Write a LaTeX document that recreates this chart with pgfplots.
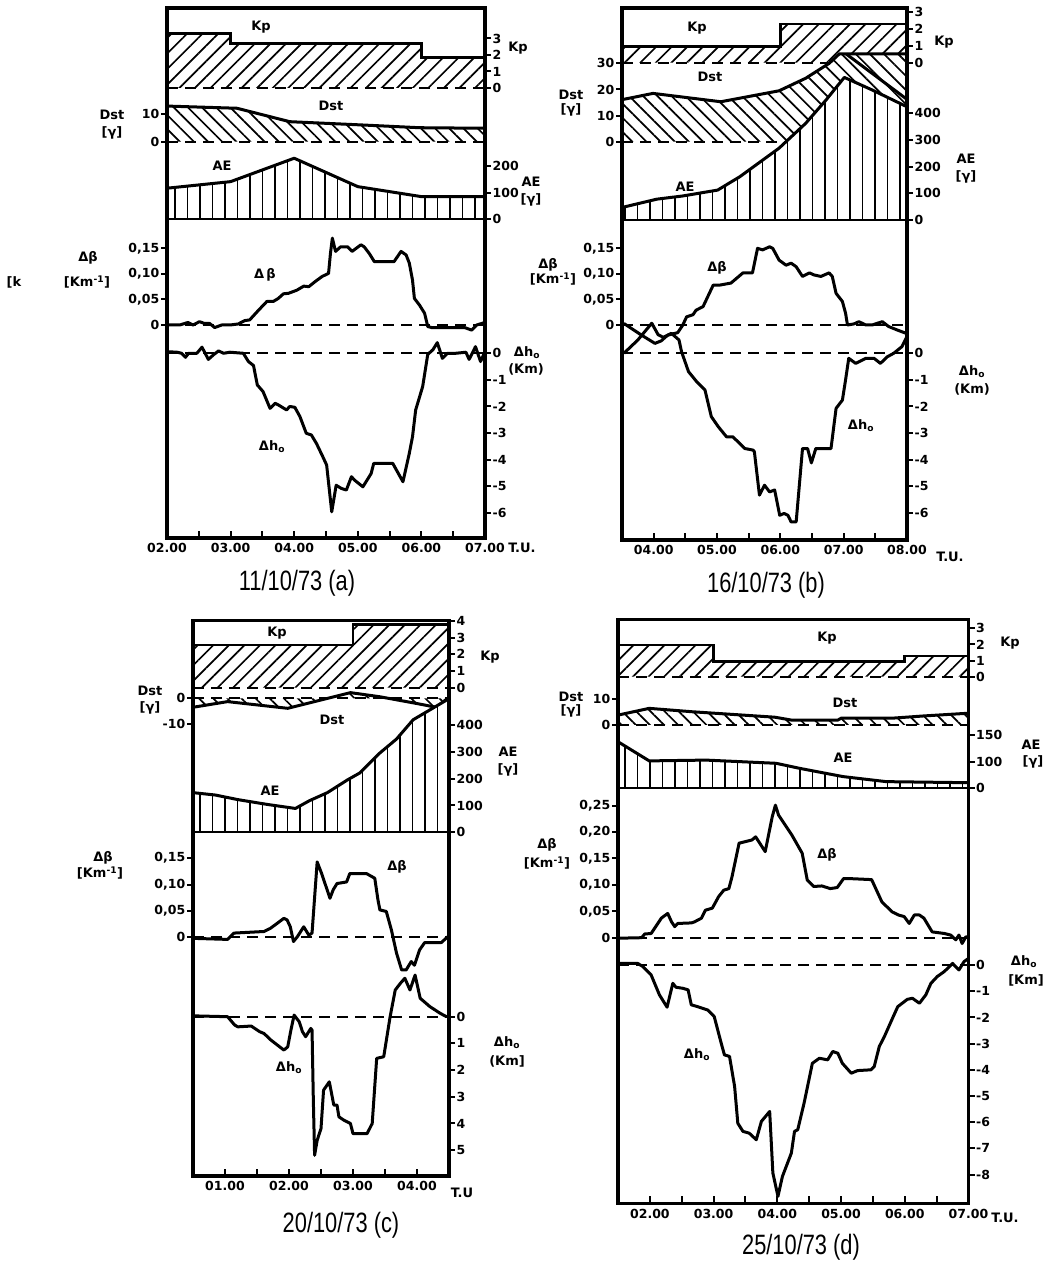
\documentclass[border=0pt]{standalone}
\usepackage{fontspec}
\setmainfont{DejaVu Sans}
\newfontfamily\capfont{Liberation Sans}
\usepackage{pgfplots}
\pgfplotsset{compat=1.18}
\usetikzlibrary{patterns.meta}

\newcommand\tl{\fontsize{12.5}{13}\selectfont\bfseries}
\newcommand\lb{\fontsize{13}{14}\selectfont\bfseries}
\newcommand\setsub[4]{% top, bottom, pixel of zero, pixels per unit
  \pgfmathsetmacro\sbymin{((#3)-(#2))/(#4)}%
  \pgfmathsetmacro\sbymax{((#3)-(#1))/(#4)}%
  \pgfmathsetmacro\sbh{(#2)-(#1)}%
  \pgfmathsetmacro\sby{1263-(#2)}}
\newcommand\setframe[2]{%
  \pgfmathsetmacro\fh{(#2)-(#1)}%
  \pgfmathsetmacro\fy{1263-(#2)}}

\pgfplotsset{
  sub/.style={scale only axis, width=\PW pt, height=\sbh pt, at={(\PL pt,\sby pt)},
    anchor=south west, xmin=\XMIN, xmax=\XMAX, ymin=\sbymin, ymax=\sbymax, clip=false,
    axis line style={draw=none}, xtick=\empty, tick align=outside, major tick length=6pt,
    tick style={line width=2pt,black}, tick label style={font=\tl},
    yticklabel style={inner sep=1.5pt}},
  subL/.style={sub, ytick pos=left, yticklabel pos=left},
  subR/.style={sub, ytick pos=right, yticklabel pos=right},
  frame/.style={scale only axis, width=\PW pt, height=\fh pt, at={(\PL pt,\fy pt)},
    anchor=south west, xmin=\XMIN, xmax=\XMAX, ymin=0, ymax=1, ytick=\empty,
    axis line style={line width=3.2pt}, tick align=inside, major tick length=7pt,
    minor tick length=7pt, tick style={line width=2pt,black}, xtick pos=bottom,
    tick label style={font=\tl}, xticklabel style={yshift=-2pt}},
}
\tikzset{
  curve/.style={line width=3pt, line join=round, black},
  zline/.style={line width=2pt, dash pattern=on 11pt off 7pt},
  stepl/.style={line width=2.6pt},
  kph/.style={draw=none, preaction={fill=white}, pattern={Lines[angle=45,distance=11pt,line width=1.7pt]}},
  dsth/.style={draw=none, preaction={fill=white}, pattern={Lines[angle=-45,distance=10pt,line width=1.7pt]}},
  aeh/.style={draw=none, preaction={fill=white}, pattern={Lines[angle=90,distance=12.5pt,line width=1.8pt]}},
  lab/.style={font=\lb, inner sep=0pt},
  captxt/.style={font=\capfont\fontsize{28}{30}\selectfont, xscale=0.78, inner sep=0pt},
}

\begin{document}
\begin{tikzpicture}
\useasboundingbox (0,0) rectangle (1046pt,1263pt);

%%%%%%%%%%%%%%%%%%%% PANEL A %%%%%%%%%%%%%%%%%%%%
\def\PL{167}\def\PW{318}\def\XMIN{2}\def\XMAX{7}
\setsub{8}{88}{88}{16.5}
\begin{axis}[subR, ytick={0,1,2,3}, yticklabels={0,1,2,3}]
\addplot[kph] coordinates {(2,0)(2,3.3)(3,3.3)(3,2.7)(6,2.7)(6,1.85)(7,1.85)(7,0)} -- cycle;
\addplot[stepl] coordinates {(2,3.3)(3,3.3)(3,2.7)(6,2.7)(6,1.85)(7,1.85)};
\addplot[zline] coordinates {(2,0)(7,0)};
\end{axis}
\setsub{88}{141.7}{141.7}{2.74}
\begin{axis}[subL, ytick={0,10}, yticklabels={0,10}]
\addplot[dsth] coordinates {(2,0)(2,13)(3.1,12.2)(3.93,7.3)(5.07,6.1)(5.97,5.1)(7,4.9)(7,0)} -- cycle;
\addplot[curve] coordinates {(2,13)(3.1,12.2)(3.93,7.3)(5.07,6.1)(5.97,5.1)(7,4.9)};
\addplot[zline] coordinates {(2,0)(7,0)};
\end{axis}
\setsub{141.7}{219}{219}{0.263}
\begin{axis}[subR, ytick={0,100,200}, yticklabels={0,100,200}]
\addplot[aeh] coordinates {(2,0)(2,117)(3,142)(4.0,231)(5.0,123)(6.0,85)(7,85)(7,0)} -- cycle;
\addplot[curve] coordinates {(2,117)(3,142)(4.0,231)(5.0,123)(6.0,85)(7,85)};
\addplot[line width=2pt] coordinates {(2,0)(7,0)};
\end{axis}
\setsub{219}{340}{325}{511}
\begin{axis}[subL, ytick={0,0.05,0.1,0.15}, yticklabels={0,{0,05},{0,10},{0,15}}]
\addplot[zline] coordinates {(2,0)(7,0)};
\addplot[curve] coordinates {(2.00,0)(2.20,0)(2.33,0.005)(2.41,0)(2.51,0.0065)(2.59,0.003)(2.67,0.003)(2.75,-0.005)(2.86,0)(2.99,0)(3.12,0.002)(3.22,0.0085)(3.30,0.01)(3.44,0.029)(3.57,0.046)(3.67,0.046)(3.75,0.052)(3.83,0.061)(3.91,0.062)(4.04,0.068)(4.15,0.076)(4.23,0.075)(4.33,0.085)(4.44,0.095)(4.54,0.101)(4.57,0.140)(4.60,0.170)(4.65,0.144)(4.73,0.153)(4.84,0.153)(4.91,0.144)(5.05,0.157)(5.10,0.153)(5.18,0.140)(5.26,0.124)(5.57,0.124)(5.68,0.144)(5.76,0.137)(5.81,0.121)(5.86,0.088)(5.89,0.052)(5.97,0.039)(6.05,0.023)(6.10,-0.003)(6.16,-0.005)(6.68,-0.005)(6.79,-0.01)(6.87,0)(7.00,0.005)};
\end{axis}
\setsub{340}{538}{353.3}{26.6}
\begin{axis}[subR, ytick={0,-1,-2,-3,-4,-5,-6}, yticklabels={0,-1,-2,-3,-4,-5,-6}]
\addplot[zline] coordinates {(2,0)(7,0)};
\addplot[curve] coordinates {(2.0,0.06)(2.16,0.04)(2.23,0)(2.29,-0.15)(2.34,0)(2.47,0)(2.55,0.23)(2.60,0)(2.65,-0.23)(2.73,-0.06)(2.81,0.09)(2.89,0)(2.99,0.04)(3.20,0)(3.28,-0.31)(3.36,-0.46)(3.42,-1.19)(3.51,-1.44)(3.62,-2.07)(3.70,-1.88)(3.75,-1.94)(3.88,-2.13)(3.93,-2.0)(4.01,-2.03)(4.09,-2.38)(4.19,-3.01)(4.27,-3.07)(4.35,-3.39)(4.45,-3.89)(4.51,-4.20)(4.53,-4.64)(4.59,-5.96)(4.66,-4.96)(4.74,-5.08)(4.82,-5.14)(4.90,-4.64)(4.95,-4.77)(5.08,-5.02)(5.21,-4.52)(5.25,-4.14)(5.55,-4.14)(5.71,-4.83)(5.81,-3.76)(5.86,-3.14)(5.91,-2.13)(6.02,-1.25)(6.10,-0.04)(6.18,0.13)(6.25,0.40)(6.33,-0.19)(6.41,0)(6.54,0)(6.70,0.04)(6.75,-0.23)(6.80,0)(6.85,0.25)(6.93,-0.31)(7.0,0.06)};
\end{axis}
\setframe{8}{538}
\begin{axis}[frame, xtick={2,3,4,5,6,7}, xticklabels={02.00,03.00,04.00,05.00,06.00,07.00}, minor xtick={2.5,3.5,4.5,5.5,6.5}]
\end{axis}

%%%%%%%%%%%%%%%%%%%% PANEL B %%%%%%%%%%%%%%%%%%%%
\def\PL{622}\def\PW{285}\def\XMIN{3.5}\def\XMAX{8}
\setsub{8}{62.7}{62.7}{17}
\begin{axis}[subR, ytick={0,1,2,3}, yticklabels={0,1,2,3}]
\addplot[kph] coordinates {(3.5,0)(3.5,0.94)(6,0.94)(6,2.28)(8,2.28)(8,0)} -- cycle;
\addplot[stepl] coordinates {(3.5,0.94)(6,0.94)(6,2.28)(8,2.28)};
\addplot[zline] coordinates {(3.5,0)(8,0)};
\end{axis}
\setsub{50}{141.7}{141.7}{2.61}
\begin{axis}[subL, ytick={0,10,20,30}, yticklabels={0,10,20,30}]
\addplot[dsth] coordinates {(3.5,0)(3.52,16.2)(3.99,18.5)(5.06,15.3)(5.98,19.5)(6.40,24.3)(6.77,30)(6.93,33.6)(8.0,33.6)(8.0,0)} -- cycle;
\addplot[curve] coordinates {(3.52,16.2)(3.99,18.5)(5.06,15.3)(5.98,19.5)(6.40,24.3)(6.77,30)(6.93,33.6)(8.0,33.6)};
\addplot[curve] coordinates {(7.04,33.6)(8.0,16.2)};
\addplot[zline] coordinates {(3.5,0)(8,0)};
\end{axis}
\setsub{70}{220}{220}{0.267}
\begin{axis}[subR, ytick={0,100,200,300,400}, yticklabels={0,100,200,300,400}]
\addplot[aeh] coordinates {(3.5,0)(3.52,48)(4.05,78)(4.46,90)(5.01,112)(5.36,162)(5.98,269)(6.40,362)(6.72,449)(7.01,534)(7.45,487)(8.0,424)(8,0)} -- cycle;
\addplot[curve] coordinates {(3.52,48)(4.05,78)(4.46,90)(5.01,112)(5.36,162)(5.98,269)(6.40,362)(6.72,449)(7.01,534)(7.45,487)(8.0,424)};
\addplot[line width=2pt] coordinates {(3.5,0)(8,0)};
\end{axis}
\setsub{220}{345}{325}{511}
\begin{axis}[subL, ytick={0,0.05,0.1,0.15}, yticklabels={0,{0,05},{0,10},{0,15}}]
\addplot[zline] coordinates {(3.5,0)(8,0)};
\addplot[curve] coordinates {(3.53,0.003)(3.81,-0.02)(4.02,-0.036)(4.12,-0.031)(4.22,-0.02)(4.38,-0.015)(4.46,0)(4.52,0.016)(4.62,0.02)(4.67,0.029)(4.78,0.036)(4.94,0.078)(5.04,0.078)(5.22,0.082)(5.41,0.102)(5.56,0.102)(5.64,0.150)(5.72,0.147)(5.83,0.153)(5.88,0.150)(5.98,0.127)(6.09,0.117)(6.17,0.121)(6.25,0.114)(6.35,0.095)(6.46,0.102)(6.53,0.098)(6.64,0.095)(6.77,0.102)(6.82,0.095)(6.88,0.062)(6.98,0.046)(7.03,0.023)(7.06,0)(7.16,0.002)(7.24,0.0065)(7.35,0)(7.45,0)(7.61,0.0065)(7.71,-0.003)(7.85,-0.01)(8.0,-0.017)};
\end{axis}
\setsub{345}{540}{353.3}{26.6}
\begin{axis}[subR, ytick={0,-1,-2,-3,-4,-5,-6}, yticklabels={0,-1,-2,-3,-4,-5,-6}]
\addplot[zline] coordinates {(3.5,0)(8,0)};
\addplot[curve] coordinates {(3.53,0)(3.75,0.5)(3.97,1.13)(4.07,0.7)(4.15,0.6)(4.28,0.75)(4.40,0.5)(4.44,0.06)(4.55,-0.69)(4.68,-1.07)(4.81,-1.38)(4.91,-2.38)(5.02,-2.76)(5.15,-3.14)(5.25,-3.14)(5.44,-3.58)(5.57,-3.64)(5.59,-3.70)(5.67,-5.33)(5.75,-4.96)(5.83,-5.21)(5.91,-5.14)(5.99,-6.09)(6.06,-6.02)(6.12,-6.09)(6.17,-6.34)(6.25,-6.34)(6.35,-3.58)(6.43,-3.58)(6.49,-4.12)(6.56,-3.58)(6.80,-3.58)(6.88,-2.07)(6.98,-1.76)(7.03,-1.0)(7.08,-0.19)(7.19,-0.38)(7.35,-0.19)(7.48,-0.19)(7.58,-0.38)(7.69,-0.13)(7.79,0)(7.92,0.25)(8.0,0.63)};
\end{axis}
\setframe{8}{540}
\begin{axis}[frame, xtick={4,5,6,7,8}, xticklabels={04.00,05.00,06.00,07.00,08.00}, minor xtick={3.5,4.5,5.5,6.5,7.5}]
\end{axis}

%%%%%%%%%%%%%%%%%%%% PANEL C %%%%%%%%%%%%%%%%%%%%
\def\PL{193}\def\PW{256}\def\XMIN{0.5}\def\XMAX{4.5}
\setsub{620.7}{687.7}{687.7}{16.7}
\begin{axis}[subR, ytick={0,1,2,3,4}, yticklabels={0,1,2,3,4}]
\addplot[kph] coordinates {(0.5,0)(0.5,2.56)(3.0,2.56)(3.0,3.8)(4.5,3.8)(4.5,0)} -- cycle;
\addplot[stepl] coordinates {(0.5,2.56)(3.0,2.56)(3.0,3.8)(4.5,3.8)};
\addplot[zline] coordinates {(0.5,0)(4.5,0)};
\end{axis}
\setsub{687.7}{730}{698.3}{2.57}
\begin{axis}[subL, ytick={0,-10}, yticklabels={0,-10}]
\addplot[dsth] coordinates {(0.5,0)(0.5,-3.5)(1.04,-1.3)(1.98,-3.9)(2.96,2.2)(3.42,0.6)(3.99,-2.0)(4.3,-3.5)(4.48,0)} -- cycle;
\addplot[curve] coordinates {(0.5,-3.5)(1.04,-1.3)(1.98,-3.9)(2.96,2.2)(3.42,0.6)(3.99,-2.0)(4.3,-3.5)(4.48,0)};
\addplot[zline] coordinates {(0.5,0)(4.5,0)};
\end{axis}
\setsub{695}{832.3}{832.3}{0.268}
\begin{axis}[subR, ytick={0,100,200,300,400}, yticklabels={0,100,200,300,400}]
\addplot[aeh] coordinates {(0.5,0)(0.5,148)(0.85,139)(1.2,122)(1.66,104)(2.1,89)(2.32,118)(2.6,148)(2.91,195)(3.11,222)(3.42,296)(3.68,348)(3.94,420)(4.46,493)(4.5,495)(4.5,0)} -- cycle;
\addplot[curve] coordinates {(0.5,148)(0.85,139)(1.2,122)(1.66,104)(2.1,89)(2.32,118)(2.6,148)(2.91,195)(3.11,222)(3.42,296)(3.68,348)(3.94,420)(4.46,493)(4.5,495)};
\addplot[line width=2pt] coordinates {(0.5,0)(4.5,0)};
\end{axis}
\setsub{832.3}{975}{937.3}{527}
\begin{axis}[subL, ytick={0,0.05,0.1,0.15}, yticklabels={0,{0,05},{0,10},{0,15}}]
\addplot[zline] coordinates {(0.5,0)(4.5,0)};
\addplot[curve] coordinates {(0.5,-0.002)(1.04,-0.004)(1.14,0.008)(1.61,0.011)(1.71,0.017)(1.92,0.036)(1.97,0.033)(2.02,0.020)(2.07,-0.008)(2.13,0.001)(2.23,0.020)(2.31,0.004)(2.36,0.008)(2.44,0.143)(2.51,0.121)(2.64,0.074)(2.69,0.090)(2.75,0.102)(2.90,0.105)(2.95,0.121)(3.21,0.121)(3.34,0.112)(3.39,0.071)(3.42,0.052)(3.52,0.049)(3.60,0.014)(3.68,-0.030)(3.76,-0.062)(3.83,-0.062)(3.91,-0.046)(3.96,-0.053)(4.04,-0.024)(4.12,-0.010)(4.38,-0.010)(4.48,0.001)};
\end{axis}
\setsub{960}{1176}{1016.7}{26.7}
\begin{axis}[subR, ytick={0,-1,-2,-3,-4,-5}, yticklabels={0,1,2,3,4,5}]
\addplot[zline] coordinates {(0.5,0)(4.5,0)};
\addplot[curve] coordinates {(0.53,0.03)(1.04,0)(1.15,-0.31)(1.2,-0.38)(1.41,-0.35)(1.54,-0.56)(1.61,-0.63)(1.72,-0.88)(1.92,-1.25)(1.98,-1.13)(2.03,-0.5)(2.08,0.06)(2.16,-0.19)(2.21,-0.56)(2.26,-0.75)(2.34,-0.44)(2.36,-0.5)(2.38,-3.1)(2.40,-5.19)(2.44,-4.63)(2.50,-4.19)(2.54,-2.75)(2.63,-2.44)(2.70,-3.31)(2.75,-3.31)(2.78,-3.75)(2.86,-3.88)(2.96,-4.0)(3.0,-4.38)(3.22,-4.38)(3.30,-4.0)(3.37,-1.56)(3.48,-1.5)(3.58,0)(3.66,1.0)(3.74,1.25)(3.81,1.44)(3.89,1.0)(3.97,1.56)(4.05,0.69)(4.20,0.38)(4.36,0.13)(4.46,0)};
\end{axis}
\setframe{620.7}{1176}
\begin{axis}[frame, xtick={1,2,3,4}, xticklabels={01.00,02.00,03.00,04.00}, minor xtick={0.5,1.5,2.5,3.5,4.5}]
\end{axis}

%%%%%%%%%%%%%%%%%%%% PANEL D %%%%%%%%%%%%%%%%%%%%
\def\PL{618}\def\PW{350.5}\def\XMIN{1.5}\def\XMAX{7}
\setsub{619.3}{676.7}{676.7}{16.1}
\begin{axis}[subR, ytick={0,1,2,3}, yticklabels={0,1,2,3}]
\addplot[kph] coordinates {(1.5,0)(1.5,1.97)(3.0,1.97)(3.0,0.93)(6.0,0.93)(6.0,1.29)(7.0,1.29)(7.0,0)} -- cycle;
\addplot[stepl] coordinates {(1.5,1.97)(3.0,1.97)(3.0,0.93)(6.0,0.93)(6.0,1.29)(7.0,1.29)};
\addplot[zline] coordinates {(1.5,0)(7,0)};
\end{axis}
\setsub{676.7}{725}{725}{2.6}
\begin{axis}[subL, ytick={0,10}, yticklabels={0,10}]
\addplot[dsth] coordinates {(1.5,0)(1.5,3.8)(1.99,6.4)(2.66,5.1)(3.96,3.0)(4.22,1.9)(4.95,1.9)(5.0,2.6)(5.79,2.6)(6.31,3.5)(6.98,4.5)(7.0,0)} -- cycle;
\addplot[curve] coordinates {(1.5,3.8)(1.99,6.4)(2.66,5.1)(3.96,3.0)(4.22,1.9)(4.95,1.9)(5.0,2.6)(5.79,2.6)(6.31,3.5)(6.98,4.5)};
\addplot[zline] coordinates {(1.5,0)(7,0)};
\end{axis}
\setsub{725}{788.3}{788.3}{0.266}
\begin{axis}[subR, ytick={0,100,200}, yticklabels={0,100,150}]
\addplot[aeh] coordinates {(1.5,0)(1.5,175)(1.99,103)(2.88,106)(3.98,94)(4.35,75)(5.03,44)(5.71,25)(7.0,21)(7,0)} -- cycle;
\addplot[curve] coordinates {(1.5,175)(1.99,103)(2.88,106)(3.98,94)(4.35,75)(5.03,44)(5.71,25)(7.0,21)};
\addplot[line width=2pt] coordinates {(1.5,0)(7,0)};
\end{axis}
\setsub{788.3}{945}{937.7}{528}
\begin{axis}[subL, ytick={0,0.05,0.1,0.15,0.2,0.25}, yticklabels={0,{0,05},{0,10},{0,15},{0,20},{0,25}}]
\addplot[zline] coordinates {(1.5,0)(7,0)};
\addplot[curve] coordinates {(1.5,-0.001)(1.87,0)(1.92,0.007)(2.02,0.008)(2.18,0.037)(2.28,0.046)(2.34,0.030)(2.39,0.021)(2.44,0.027)(2.65,0.028)(2.70,0.030)(2.81,0.037)(2.87,0.052)(2.98,0.056)(3.08,0.078)(3.16,0.090)(3.24,0.093)(3.29,0.116)(3.40,0.179)(3.50,0.182)(3.60,0.185)(3.66,0.191)(3.81,0.163)(3.92,0.229)(3.97,0.251)(4.02,0.232)(4.23,0.194)(4.39,0.160)(4.47,0.109)(4.57,0.097)(4.70,0.098)(4.83,0.093)(4.94,0.095)(5.04,0.112)(5.12,0.112)(5.48,0.110)(5.64,0.068)(5.80,0.049)(5.90,0.043)(5.99,0.040)(6.07,0.027)(6.15,0.043)(6.23,0.043)(6.30,0.037)(6.43,0.011)(6.62,0.008)(6.72,0.005)(6.80,-0.004)(6.85,0.005)(6.90,-0.011)(6.96,0.002)(7.0,0.0)};
\end{axis}
\setsub{945}{1203.3}{965}{26.2}
\begin{axis}[subR, ytick={0,-1,-2,-3,-4,-5,-6,-7,-8}, yticklabels={0,-1,-2,-3,-4,-5,-6,-7,-8}]
\addplot[zline] coordinates {(1.5,0)(7,0)};
\addplot[curve] coordinates {(1.5,0.06)(1.81,0.06)(1.89,-0.06)(2.02,-0.38)(2.15,-1.14)(2.27,-1.61)(2.36,-0.70)(2.41,-0.85)(2.52,-0.89)(2.60,-0.95)(2.65,-1.52)(2.75,-1.59)(2.91,-1.72)(3.01,-1.97)(3.12,-2.99)(3.17,-3.43)(3.25,-3.49)(3.33,-4.64)(3.38,-6.04)(3.46,-6.35)(3.56,-6.42)(3.67,-6.67)(3.75,-5.97)(3.88,-5.59)(3.93,-7.94)(4.01,-8.83)(4.08,-8.07)(4.22,-7.18)(4.27,-6.35)(4.32,-6.29)(4.42,-5.27)(4.55,-3.75)(4.66,-3.56)(4.79,-3.62)(4.87,-3.30)(4.95,-3.37)(5.02,-3.75)(5.16,-4.13)(5.26,-4.03)(5.47,-4.0)(5.52,-3.88)(5.60,-3.11)(5.68,-2.73)(5.83,-1.91)(5.89,-1.59)(6.04,-1.31)(6.12,-1.27)(6.23,-1.46)(6.33,-1.14)(6.41,-0.70)(6.51,-0.44)(6.62,-0.25)(6.75,0.06)(6.85,-0.19)(6.93,0.13)(7.0,0.25)};
\end{axis}
\setframe{619.3}{1203.3}
\begin{axis}[frame, xtick={2,3,4,5,6,7}, xticklabels={02.00,03.00,04.00,05.00,06.00,07.00}, minor xtick={1.5,2.5,3.5,4.5,5.5,6.5}]
\end{axis}

%%%%%%%%%%%%%%%%%%%% TEXT %%%%%%%%%%%%%%%%%%%%
\begin{scope}[x=1pt,y=-1pt,shift={(0pt,1263pt)}]
% panel a
\node[lab] at (261,27) {Kp};
\node[lab] at (331,106) {Dst};
\node[lab] at (222,166) {AE};
\node[lab] at (265,275) {Δ\,β};
\node[lab] at (272,447) {Δh\textsubscript{o}};
\node[lab] at (518,48) {Kp};
\node[lab] at (531,182) {AE};
\node[lab] at (531,200) {[γ]};
\node[lab] at (527,353) {Δh\textsubscript{o}};
\node[lab] at (526,369) {(Km)};
\node[lab] at (112,115) {Dst};
\node[lab] at (112,133) {[γ]};
\node[lab] at (88,258) {Δβ};
\node[lab] at (87,282) {[Km\textsuperscript{-1}]};
\node[lab] at (14,282) {[k};
\node[lab] at (522,548) {T.U.};
\node[captxt] at (297,583) {11/10/73 (a)};
% panel b
\node[lab] at (697,28) {Kp};
\node[lab] at (710,77) {Dst};
\node[lab] at (685,187) {AE};
\node[lab] at (717,268) {Δβ};
\node[lab] at (861,426) {Δh\textsubscript{o}};
\node[lab] at (944,42) {Kp};
\node[lab] at (966,159) {AE};
\node[lab] at (966,177) {[γ]};
\node[lab] at (972,372) {Δh\textsubscript{o}};
\node[lab] at (972,389) {(Km)};
\node[lab] at (571,95) {Dst};
\node[lab] at (571,110) {[γ]};
\node[lab] at (548,265) {Δβ};
\node[lab] at (553,279) {[Km\textsuperscript{-1}]};
\node[lab] at (950,557) {T.U.};
\node[captxt] at (766,585) {16/10/73 (b)};
% panel c
\node[lab] at (277,633) {Kp};
\node[lab] at (332,720) {Dst};
\node[lab] at (270,791) {AE};
\node[lab] at (397,867) {Δβ};
\node[lab] at (289,1068) {Δh\textsubscript{o}};
\node[lab] at (490,657) {Kp};
\node[lab] at (508,752) {AE};
\node[lab] at (508,770) {[γ]};
\node[lab] at (507,1043) {Δh\textsubscript{o}};
\node[lab] at (507,1061) {(Km]};
\node[lab] at (150,691) {Dst};
\node[lab] at (150,708) {[γ]};
\node[lab] at (103,858) {Δβ};
\node[lab] at (100,873) {[Km\textsuperscript{-1}]};
\node[lab] at (462,1193) {T.U};
\node[captxt] at (341,1225) {20/10/73 (c)};
% panel d
\node[lab] at (827,638) {Kp};
\node[lab] at (845,703) {Dst};
\node[lab] at (843,758) {AE};
\node[lab] at (827,855) {Δβ};
\node[lab] at (697,1055) {Δh\textsubscript{o}};
\node[lab] at (1010,643) {Kp};
\node[lab] at (1031,745) {AE};
\node[lab] at (1033,762) {[γ]};
\node[lab] at (1024,962) {Δh\textsubscript{o}};
\node[lab] at (1026,980) {[Km]};
\node[lab] at (571,697) {Dst};
\node[lab] at (571,711) {[γ]};
\node[lab] at (547,845) {Δβ};
\node[lab] at (547,863) {[Km\textsuperscript{-1}]};
\node[lab] at (1005,1218) {T.U.};
\node[captxt] at (801,1247) {25/10/73 (d)};
\end{scope}
\end{tikzpicture}
\end{document}
